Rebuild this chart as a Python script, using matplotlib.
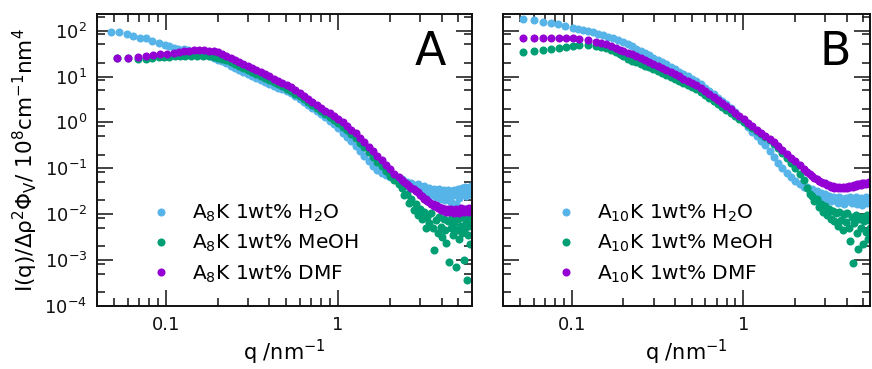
import numpy as np
import matplotlib
matplotlib.use("Agg")
import matplotlib.pyplot as plt
from matplotlib.ticker import LogLocator, FixedLocator, FixedFormatter, NullFormatter

# SAXS curves; intensities kept as log10 values
c_h2o = "#56B4E9"
c_meoh = "#009E73"
c_dmf = "#9400D3"

# shared q grid for the smooth middle part of every curve
q_mid = [0.200, 0.212, 0.224, 0.238, 0.252, 0.267, 0.282, 0.299, 0.317, 0.336,
         0.356, 0.377, 0.399, 0.423, 0.448, 0.475, 0.503, 0.533, 0.564, 0.598,
         0.634, 0.671, 0.711, 0.753, 0.798, 0.846, 0.896, 0.949, 1.005, 1.065,
         1.128, 1.195, 1.266, 1.341, 1.421, 1.505, 1.595, 1.689, 1.790, 1.896,
         2.009, 2.128, 2.254]
# noisy high-q tail
q_tail_A = [2.35, 2.43, 2.51, 2.59, 2.67, 2.75, 2.83, 2.91, 2.99, 3.07, 3.15, 3.23,
            3.31, 3.39, 3.47, 3.55, 3.63, 3.71, 3.79, 3.87, 3.95, 4.03, 4.11, 4.19,
            4.27, 4.35, 4.43, 4.51, 4.59, 4.67, 4.75, 4.83, 4.91, 4.99, 5.07, 5.15,
            5.23, 5.31, 5.39, 5.47, 5.55, 5.63, 5.71, 5.79, 5.87, 5.95]
q_tail_B = q_tail_A[:40]

# ---- panel A : A8K ----
qlow_A_h2o = [0.0478, 0.0535, 0.0592, 0.0647, 0.0706, 0.0762, 0.0834, 0.091, 0.0995,
              0.105, 0.111, 0.118, 0.127, 0.135, 0.143, 0.152, 0.161, 0.171, 0.181, 0.19]
low_A_h2o = [1.966, 1.962, 1.925, 1.885, 1.85, 1.83, 1.77, 1.72, 1.68,
             1.655, 1.63, 1.61, 1.59, 1.57, 1.555, 1.539, 1.51, 1.475, 1.444, 1.41]
mid_A_h2o = [1.37, 1.33, 1.29, 1.23, 1.187, 1.144, 1.101, 1.058, 1.015, 0.972,
             0.93, 0.888, 0.845, 0.803, 0.76, 0.718, 0.675, 0.633, 0.57, 0.505,
             0.44, 0.37, 0.305, 0.24, 0.175, 0.11, 0.035, -0.045, -0.13, -0.22,
             -0.315, -0.415, -0.52, -0.63, -0.74, -0.845, -0.945, -1.04, -1.10, -1.15,
             -1.19, -1.23, -1.26]
tail_A_h2o = [-1.24, -1.33, -1.29, -1.40, -1.32, -1.44, -1.37, -1.34, -1.49, -1.41,
              -1.38, -1.54, -1.45, -1.42, -1.58, -1.48, -1.44, -1.62, -1.51, -1.46,
              -1.66, -1.54, -1.47, -1.70, -1.56, -1.48, -1.64, -1.74, -1.50, -1.59,
              -1.47, -1.78, -1.55, -1.45, -1.64, -1.52, -1.43, -1.88, -1.50, -1.41,
              -1.60, -1.47, -2.25, -1.42, -1.55, -1.38]

qlow_A_meoh = [0.0522, 0.0605, 0.0689, 0.0762, 0.0834, 0.091, 0.0974, 0.105, 0.113,
               0.121, 0.13, 0.14, 0.152, 0.165, 0.178, 0.19]
low_A_meoh = [1.40, 1.40, 1.39, 1.379, 1.409, 1.415, 1.423, 1.43, 1.437,
              1.445, 1.448, 1.45, 1.452, 1.445, 1.437, 1.43]
mid_A_meoh = [1.41, 1.385, 1.355, 1.313, 1.271, 1.229, 1.187, 1.145, 1.103, 1.061,
              1.015, 0.969, 0.923, 0.877, 0.831, 0.785, 0.739, 0.693, 0.63, 0.565,
              0.50, 0.436, 0.372, 0.307, 0.243, 0.18, 0.12, 0.055, -0.015, -0.09,
              -0.17, -0.255, -0.345, -0.44, -0.54, -0.645, -0.75, -0.855, -0.96, -1.06,
              -1.16, -1.26, -1.35]
tail_A_meoh = [-1.42, -1.58, -1.55, -1.75, -1.66, -1.90, -1.78, -2.02, -1.88, -2.10,
               -1.95, -2.31, -2.05, -2.20, -1.98, -2.30, -2.79, -2.12, -2.40, -2.05,
               -2.28, -2.50, -2.10, -2.35, -2.62, -2.15, -3.04, -2.30, -2.05, -2.45,
               -2.20, -3.16, -2.35, -2.10, -2.55, -2.25, -2.40, -2.05, -3.00, -2.30,
               -2.15, -3.44, -2.45, -2.10, -2.64, -2.25]

qlow_A_dmf = [0.0522, 0.0605, 0.0689, 0.0762, 0.0843, 0.0923, 0.102, 0.111, 0.119,
              0.127, 0.136, 0.145, 0.155, 0.166, 0.178, 0.19]
low_A_dmf = [1.409, 1.409, 1.422, 1.444, 1.466, 1.481, 1.496, 1.518, 1.535,
             1.553, 1.562, 1.569, 1.572, 1.569, 1.562, 1.553]
mid_A_dmf = [1.525, 1.49, 1.455, 1.41, 1.366, 1.321, 1.277, 1.232, 1.188, 1.143,
             1.096, 1.049, 1.002, 0.955, 0.908, 0.861, 0.814, 0.767, 0.70, 0.637,
             0.572, 0.508, 0.443, 0.379, 0.314, 0.25, 0.195, 0.135, 0.07, 0.0,
             -0.075, -0.155, -0.24, -0.33, -0.425, -0.525, -0.625, -0.725, -0.825, -0.925,
             -1.025, -1.12, -1.20]
tail_A_dmf = [-1.26, -1.30, -1.35, -1.38, -1.43, -1.45, -1.50, -1.52, -1.58, -1.60,
              -1.66, -1.67, -1.72, -1.73, -1.78, -1.77, -1.83, -1.81, -1.87, -1.84,
              -1.90, -1.86, -1.93, -1.88, -1.95, -1.89, -1.96, -1.88, -1.94, -1.90,
              -1.97, -1.88, -1.93, -1.91, -1.97, -1.87, -1.94, -1.90, -1.96, -1.88,
              -1.93, -1.89, -1.95, -1.87, -1.92, -1.90]

# ---- panel B : A10K ----
qlow_B_h2o = [0.052, 0.06, 0.068, 0.076, 0.083, 0.091, 0.102, 0.109, 0.116, 0.124,
              0.133, 0.142, 0.152, 0.163, 0.174, 0.187]
low_B_h2o = [2.247, 2.232, 2.197, 2.16, 2.138, 2.10, 2.066, 2.04, 2.013, 1.99,
             1.963, 1.935, 1.904, 1.87, 1.83, 1.795]
mid_B_h2o = [1.75, 1.705, 1.66, 1.61, 1.561, 1.512, 1.463, 1.414, 1.365, 1.316,
             1.264, 1.212, 1.16, 1.108, 1.056, 1.004, 0.952, 0.90, 0.828, 0.756,
             0.684, 0.612, 0.54, 0.468, 0.396, 0.324, 0.22, 0.115, 0.01, -0.095,
             -0.20, -0.30, -0.40, -0.50, -0.62, -0.75, -0.88, -1.0, -1.10, -1.2,
             -1.28, -1.35, -1.40]
tail_B_h2o = [-1.40, -1.50, -1.46, -1.58, -1.50, -1.62, -1.54, -1.66, -1.57, -1.68,
              -1.60, -1.72, -1.62, -1.70, -1.64, -1.75, -1.63, -1.72, -1.66, -1.78,
              -1.64, -1.72, -1.68, -1.62, -1.76, -1.66, -1.70, -1.63, -1.78, -1.67,
              -1.72, -1.64, -1.80, -1.68, -1.71, -1.62, -1.76, -1.67, -1.73, -1.65]

qlow_B_meoh = [0.052, 0.06, 0.068, 0.076, 0.0843, 0.093, 0.102, 0.111, 0.124, 0.139,
               0.149, 0.159, 0.17, 0.182, 0.191]
low_B_meoh = [1.54, 1.562, 1.576, 1.605, 1.627, 1.65, 1.664, 1.678, 1.678, 1.664,
              1.645, 1.612, 1.575, 1.54, 1.49]
mid_B_meoh = [1.445, 1.39, 1.345, 1.31, 1.27, 1.235, 1.197, 1.16, 1.122, 1.085,
              1.034, 0.989, 0.944, 0.899, 0.854, 0.809, 0.764, 0.719, 0.656, 0.593,
              0.53, 0.467, 0.404, 0.341, 0.278, 0.215, 0.147, 0.08, 0.012, -0.056,
              -0.124, -0.19, -0.26, -0.32, -0.39, -0.47, -0.56, -0.66, -0.77, -0.88,
              -1.0, -1.12, -1.25]
tail_B_meoh = [-1.42, -1.55, -1.60, -1.72, -1.66, -1.85, -1.78, -1.95, -1.82, -2.02,
               -1.88, -2.10, -1.92, -2.15, -1.98, -2.25, -1.95, -2.12, -2.35, -2.00,
               -2.18, -1.98, -2.30, -2.59, -2.05, -3.06, -2.20, -2.02, -2.40, -2.75,
               -2.10, -2.30, -2.05, -2.65, -2.15, -2.38, -2.02, -2.55, -2.12, -2.30]

qlow_B_dmf = [0.052, 0.06, 0.068, 0.076, 0.0843, 0.093, 0.102, 0.111, 0.124, 0.139,
              0.149, 0.159, 0.17, 0.182, 0.191]
low_B_dmf = [1.831, 1.838, 1.838, 1.838, 1.838, 1.838, 1.831, 1.816, 1.794, 1.758,
             1.73, 1.70, 1.655, 1.612, 1.58]
mid_B_dmf = [1.56, 1.52, 1.485, 1.443, 1.40, 1.358, 1.316, 1.274, 1.232, 1.19,
             1.144, 1.097, 1.05, 1.003, 0.956, 0.909, 0.862, 0.815, 0.75, 0.684,
             0.618, 0.553, 0.487, 0.421, 0.356, 0.29, 0.215, 0.14, 0.065, -0.01,
             -0.085, -0.16, -0.225, -0.29, -0.355, -0.43, -0.515, -0.60, -0.685, -0.77,
             -0.85, -0.935, -1.02]
tail_B_dmf = [-1.08, -1.13, -1.16, -1.22, -1.24, -1.28, -1.29, -1.33, -1.33, -1.37,
              -1.36, -1.40, -1.39, -1.42, -1.40, -1.43, -1.41, -1.43, -1.40, -1.43,
              -1.40, -1.42, -1.39, -1.41, -1.38, -1.40, -1.36, -1.39, -1.35, -1.37,
              -1.34, -1.36, -1.33, -1.35, -1.32, -1.34, -1.31, -1.33, -1.30, -1.32]

labels_A = [r"A$_8$K 1wt% H$_2$O", r"A$_8$K 1wt% MeOH", r"A$_8$K 1wt% DMF"]
labels_B = [r"A$_{10}$K 1wt% H$_2$O", r"A$_{10}$K 1wt% MeOH", r"A$_{10}$K 1wt% DMF"]

panel_A = [(qlow_A_h2o, low_A_h2o, mid_A_h2o, tail_A_h2o),
           (qlow_A_meoh, low_A_meoh, mid_A_meoh, tail_A_meoh),
           (qlow_A_dmf, low_A_dmf, mid_A_dmf, tail_A_dmf)]
panel_B = [(qlow_B_h2o, low_B_h2o, mid_B_h2o, tail_B_h2o),
           (qlow_B_meoh, low_B_meoh, mid_B_meoh, tail_B_meoh),
           (qlow_B_dmf, low_B_dmf, mid_B_dmf, tail_B_dmf)]
colors = [c_h2o, c_meoh, c_dmf]

plt.rcParams['font.family'] = ['DejaVu Sans']
plt.rcParams['mathtext.fontset'] = 'dejavusans'

fig = plt.figure(figsize=(8.72, 3.69), dpi=100)
axA = fig.add_axes([0.1112, 0.1707, 0.4300, 0.7913])
axB = fig.add_axes([0.5768, 0.1707, 0.4209, 0.7913])


def draw(ax, series, q_tail, labels, letter, xmax, letter_x):
    for (ql, lo, mi, ta), col, lab in zip(series, colors, labels):
        q = np.array(ql + q_mid + q_tail)
        I = 10 ** np.array(lo + mi + ta)
        ax.plot(q, I, 'o', ms=5.8, mew=0, color=col, label=lab)
    ax.set_xscale('log')
    ax.set_yscale('log')
    ax.set_xlim(0.0398, xmax)
    ax.set_ylim(1e-4, 230)
    ax.xaxis.set_major_locator(FixedLocator([0.1, 1]))
    ax.xaxis.set_major_formatter(FixedFormatter(['0.1', '1']))
    ax.xaxis.set_minor_locator(LogLocator(base=10, subs=(2, 3, 4, 5, 6, 7, 8, 9)))
    ax.xaxis.set_minor_formatter(NullFormatter())
    ax.yaxis.set_major_locator(LogLocator(base=10, numticks=12))
    ax.yaxis.set_minor_locator(LogLocator(base=10, subs=(2, 5, 8.4), numticks=12))
    ax.yaxis.set_minor_formatter(NullFormatter())
    ax.tick_params(which='both', direction='in', top=True, right=True,
                   width=1.1, colors='#111111', labelsize=13)
    ax.tick_params(which='major', length=11.5, pad=7)
    ax.tick_params(which='minor', length=6)
    for s in ax.spines.values():
        s.set_linewidth(1.4)
        s.set_color('#111111')
    ax.set_xlabel(r"q /nm$^{-1}$", fontsize=15, labelpad=3)
    ax.text(letter_x, 0.945, letter, transform=ax.transAxes, ha='right', va='top',
            fontsize=33)
    ax.legend(loc='lower left', bbox_to_anchor=(0.122, 0.045), frameon=False,
              fontsize=14.5, handlelength=1.0, handletextpad=1.05,
              labelspacing=0.45, borderaxespad=0)


draw(axA, panel_A, q_tail_A, labels_A, 'A', 6.0, 0.93)
draw(axB, panel_B, q_tail_B, labels_B, 'B', 5.47, 0.948)
axB.tick_params(labelleft=False)
axA.set_ylabel("I(q)/Δρ$^2$Φ$_\\mathrm{V}$/ 10$^8$cm$^{-1}$nm$^4$", fontsize=15.5,
               labelpad=3)

fig.savefig("out.png", dpi=100)
